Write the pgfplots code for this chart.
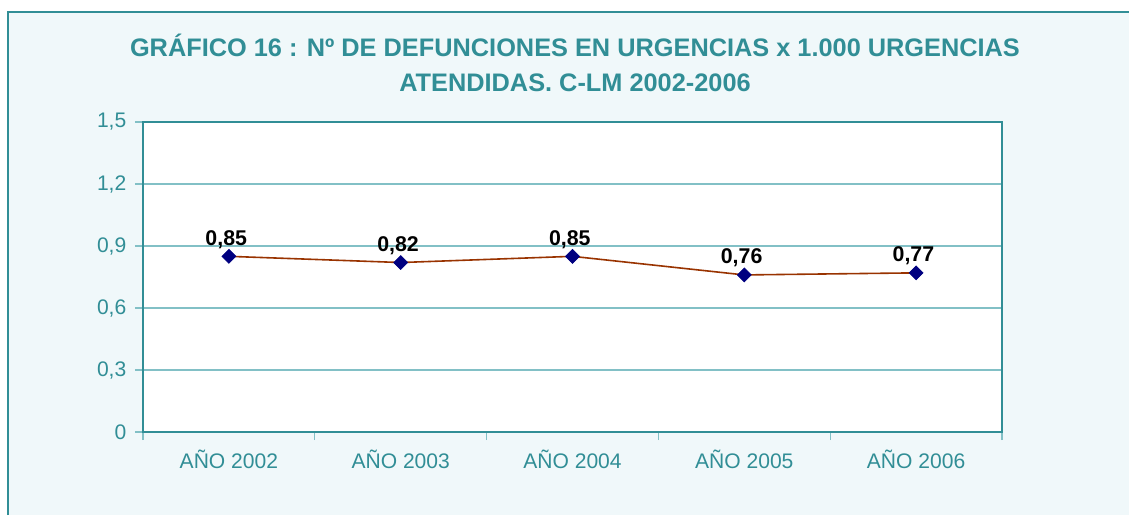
\documentclass[border=0pt]{standalone}
\usepackage{pgfplots}
\pgfplotsset{compat=1.18}
\usepackage{fontspec}
\setmainfont{Liberation Sans}
\definecolor{teal1}{RGB}{49,142,150}
\definecolor{bgc}{RGB}{240,248,250}
\definecolor{gridc}{RGB}{130,192,198}
\definecolor{linec}{RGB}{153,51,0}
\definecolor{markc}{RGB}{0,0,128}
\begin{document}
\begin{tikzpicture}
\useasboundingbox (-107.25pt,-62.25pt) rectangle (739.5pt,324pt);
\fill[bgc] (-101.25pt,-62.25pt) rectangle (739.5pt,315pt);
\draw[teal1,line width=1.5pt] (-101.25pt,-62.25pt) -- (-101.25pt,315pt) -- (739.5pt,315pt);
\node[anchor=base,text=teal1,font=\fontsize{19}{22}\selectfont\bfseries] at (324pt,281.25pt) {GRÁFICO 16 : Nº DE DEFUNCIONES EN URGENCIAS x 1.000 URGENCIAS};
\node[anchor=base,text=teal1,font=\fontsize{19}{22}\selectfont\bfseries] at (324pt,255pt) {ATENDIDAS. C-LM 2002-2006};
\begin{axis}[
  scale only axis,
  width=644.25pt, height=232.5pt,
  xmin=-0.5, xmax=4.5, ymin=0, ymax=1.5,
  axis background/.style={fill=white},
  axis line style={teal1,line width=1.5pt},
  xtick={-0.5,0.5,1.5,2.5,3.5,4.5},
  x tick label as interval,
  xticklabels={AÑO 2002,AÑO 2003,AÑO 2004,AÑO 2005,AÑO 2006},
  ytick={0,0.3,0.6,0.9,1.2,1.5},
  tick align=outside,
  major tick length=6pt,
  tick style={gridc,line width=0.8pt},
  ymajorgrids,
  major grid style={gridc,line width=0.8pt},
  xtick pos=bottom, ytick pos=left,
  /pgf/number format/assume math mode=true,
  /pgf/number format/use comma,
  ticklabel style={text=teal1,font=\fontsize{15.8}{18}\selectfont},
  xticklabel style={yshift=-4pt},
  yticklabel style={xshift=-3pt},
  nodes near coords,
  point meta=y,
  every node near coord/.append style={font=\fontsize{16}{18}\selectfont\bfseries,text=black,
    /pgf/number format/fixed,/pgf/number format/fixed zerofill,/pgf/number format/precision=2,
    anchor=base,yshift=8.5pt,xshift=-2pt},
]
\addplot[linec,line width=1.2pt,mark=square*,mark size=3.7pt,
  mark options={fill=markc,draw=markc,rotate=45,line width=0.5pt}]
  coordinates {(0,0.85) (1,0.82) (2,0.85) (3,0.76) (4,0.77)};
\end{axis}
\end{tikzpicture}
\end{document}
